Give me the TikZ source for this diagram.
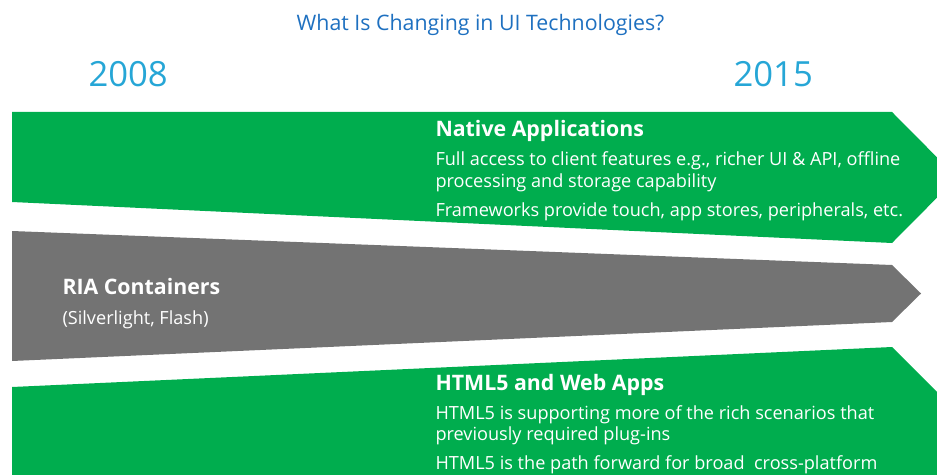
\documentclass[tikz,border=0pt]{standalone}
\usepackage{fontspec}
\setmainfont{Open Sans}

\definecolor{titleblue}{RGB}{30,112,192}
\definecolor{yearblue}{RGB}{38,166,214}
\definecolor{bandgreen}{RGB}{0,173,78}
\definecolor{bandgray}{RGB}{115,115,115}

\tikzset{every picture/.style={line width=0.75pt}}
\tikzset{
  titletext/.style={font=\fontsize{16}{19}\selectfont, text=titleblue},
  yeartext/.style={font=\fontsize{26}{30}\selectfont, text=yearblue},
  headtext/.style={font=\fontsize{16}{19}\selectfont\bfseries, text=white},
  bodytext/.style={font=\fontsize{13.6}{16}\selectfont, text=white},
}

\begin{document}
\begin{tikzpicture}[x=0.75pt,y=0.75pt,yscale=-1,xscale=1]
\useasboundingbox (0,0) rectangle (937,474);
\clip (0,0) rectangle (937,474);

%Shape: Polygon [id:native]
\fill [bandgreen] (12,112) -- (892,112) -- (957,177.5) -- (892,243) -- (12,202) -- cycle ;
%Shape: Polygon [id:ria]
\fill [bandgray] (12,231) -- (892,265) -- (921,293.5) -- (892,322) -- (12,361) -- cycle ;
%Shape: Polygon [id:html]
\fill [bandgreen] (12,387) -- (892,347) -- (990,445) -- (990,500) -- (12,500) -- cycle ;

% Text Node
\draw (480.5,31) node [anchor=base][inner sep=0pt] [titletext] (title) {What Is Changing in UI Technologies?};
% Text Node
\draw (88,87) node [anchor=base west][inner sep=0pt] [yeartext] (yearstart) {2008};
% Text Node
\draw (733,87) node [anchor=base west][inner sep=0pt] [yeartext] (yearend) {2015};

% Text Node
\draw (435,137) node [anchor=base west][inner sep=0pt] [headtext] (nativehead) {Native Applications};
% Text Node
\draw (435,166) node [anchor=base west][inner sep=0pt] [bodytext] (nativea) {Full access to client features e.g., richer UI \& API, offline};
% Text Node
\draw (435,187) node [anchor=base west][inner sep=0pt] [bodytext] (nativeb) {processing and storage capability};
% Text Node
\draw (435,216) node [anchor=base west][inner sep=0pt] [bodytext] (nativec) {Frameworks provide touch, app stores, peripherals, etc.};

% Text Node
\draw (62,294) node [anchor=base west][inner sep=0pt] [headtext] (riahead) {RIA Containers};
% Text Node
\draw (62,324) node [anchor=base west][inner sep=0pt] [bodytext] (riaa) {(Silverlight, Flash)};

% Text Node
\draw (435,390) node [anchor=base west][inner sep=0pt] [headtext] (htmlhead) {HTML5 and Web Apps};
% Text Node
\draw (435,419) node [anchor=base west][inner sep=0pt] [bodytext] (htmla) {HTML5 is supporting more of the rich scenarios that};
% Text Node
\draw (435,440) node [anchor=base west][inner sep=0pt] [bodytext] (htmlb) {previously required plug-ins};
% Text Node
\draw (435,469) node [anchor=base west][inner sep=0pt] [bodytext] (htmlc) {HTML5 is the path forward for broad\ \ cross-platform};

\end{tikzpicture}
\end{document}
